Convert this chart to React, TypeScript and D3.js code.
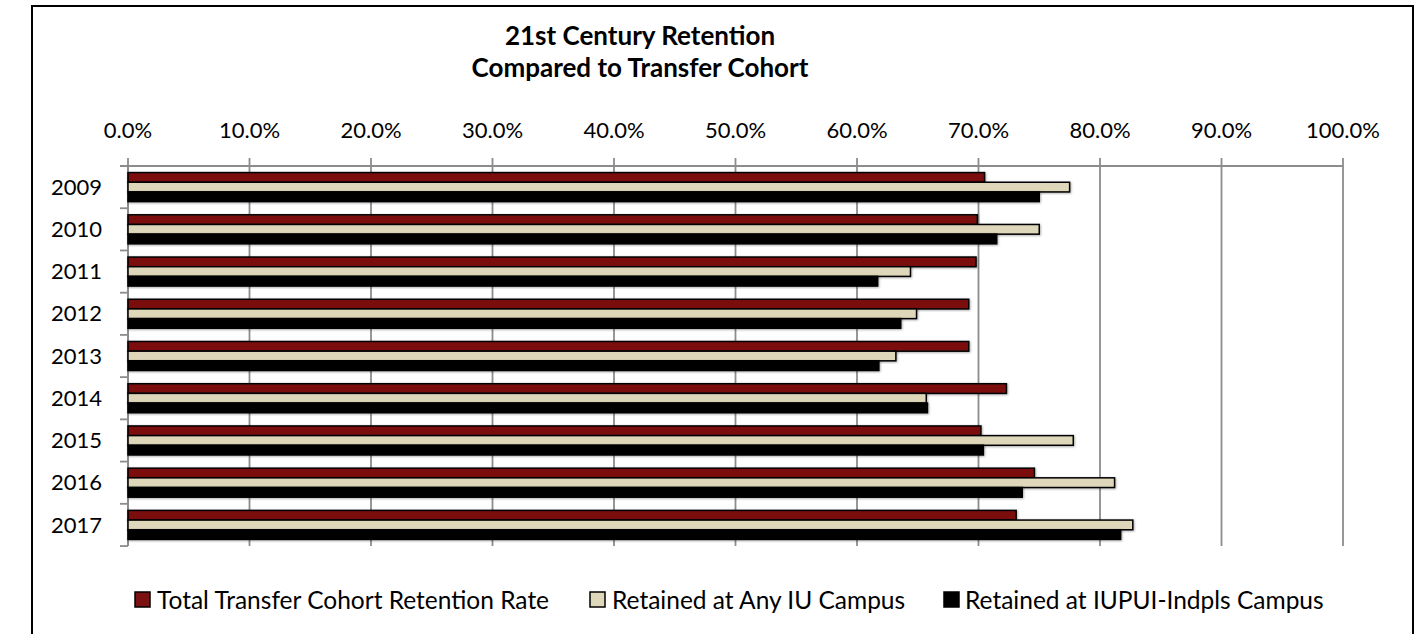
import React from "react";
import * as d3 from "d3";

const years = ["2009", "2010", "2011", "2012", "2013", "2014", "2015", "2016", "2017"];
const seriesNames = [
  "Total Transfer Cohort Retention Rate",
  "Retained at Any IU Campus",
  "Retained at IUPUI-Indpls Campus",
];
const totalTransfer = [70.5, 69.9, 69.8, 69.2, 69.2, 72.3, 70.2, 74.6, 73.1];
const anyIU = [77.5, 75.0, 64.4, 64.9, 63.2, 65.7, 77.8, 81.2, 82.7];
const iupui = [75.0, 71.5, 61.7, 63.6, 61.8, 65.8, 70.4, 73.6, 81.7];
const xTicks = [0, 10, 20, 30, 40, 50, 60, 70, 80, 90, 100];
const colors = ["#7B1111", "#DFD7BA", "#000000"];
const titleLines = ["21st Century Retention", "Compared to Transfer Cohort"];

const W = 1426;
const H = 634;
const FONT = "Lato, 'Open Sans', sans-serif";

export default function App() {
  const left = 128;
  const right = 1343;
  const top = 166;
  const bottom = 546;
  const x = d3.scaleLinear().domain([0, 100]).range([left, right]);
  const y = d3
    .scaleBand<string>()
    .domain(years)
    .range([top, bottom])
    .paddingInner(0.313)
    .paddingOuter(0.156);
  const sub = d3
    .scaleBand<number>()
    .domain([0, 1, 2])
    .range([0, y.bandwidth()]);
  const allSeries = [totalTransfer, anyIU, iupui];
  const step = y.step();
  const yTickPositions = d3.range(years.length + 1).map((i) => top + i * step);
  const fmt = d3.format(".1f");

  const legendItems = [
    { sx: 135, tx: 157 },
    { sx: 590, tx: 612 },
    { sx: 944, tx: 965 },
  ];

  return (
    <svg
      width={W}
      height={H}
      style={{ position: "absolute", left: 0, top: 0, background: "#fff" }}
      fontFamily={FONT}
    >
      <defs>
        <filter id="sh" x="-5%" y="-30%" width="110%" height="160%">
          <feDropShadow dx="0.8" dy="0.8" stdDeviation="0.8" floodColor="#000" floodOpacity="0.35" />
        </filter>
      </defs>
      <rect x={32} y={6} width={1381} height={H + 20} fill="#fff" stroke="#000" strokeWidth={2} />

      {titleLines.map((t, i) => (
        <text
          key={t}
          x={640}
          y={45 + i * 32}
          textAnchor="middle"
          fontWeight="bold"
          fontSize={26}
          fill="#000"
        >
          {t}
        </text>
      ))}

      {/* gridlines */}
      {xTicks.map((t) => (
        <line
          key={"g" + t}
          x1={x(t)}
          x2={x(t)}
          y1={158}
          y2={bottom}
          stroke="#8c8c8c"
          strokeWidth={1.8}
        />
      ))}
      {/* top axis line */}
      <line x1={120} x2={right} y1={top} y2={top} stroke="#8c8c8c" strokeWidth={2} />
      {/* left axis line */}
      <line x1={left} x2={left} y1={top} y2={bottom} stroke="#8c8c8c" strokeWidth={2} />
      {yTickPositions.map((p, i) => (
        <line key={"yt" + i} x1={120} x2={left} y1={p} y2={p} stroke="#8c8c8c" strokeWidth={1.8} />
      ))}

      {xTicks.map((t) => (
        <text key={"xl" + t} x={x(t)} y={138} textAnchor="middle" fontSize={22} fill="#000">
          {fmt(t) + "%"}
        </text>
      ))}
      {years.map((yr) => (
        <text
          key={"yl" + yr}
          x={102}
          y={(y(yr) as number) + y.bandwidth() / 2}
          dy="0.35em"
          textAnchor="end"
          fontSize={22}
          fill="#000"
        >
          {yr}
        </text>
      ))}

      {years.map((yr, i) => (
        <g key={"bars" + yr}>
          {allSeries.map((s, k) => (
            <rect
              key={k}
              x={x(0)}
              y={(y(yr) as number) + (sub(k) as number)}
              width={x(s[i]) - x(0)}
              height={sub.bandwidth()}
              fill={colors[k]}
              stroke="#000"
              strokeWidth={1.5}
              filter="url(#sh)"
            />
          ))}
        </g>
      ))}

      {seriesNames.map((n, k) => (
        <g key={"lg" + k}>
          <rect
            x={legendItems[k].sx}
            y={592}
            width={15}
            height={15}
            fill={colors[k]}
            stroke="#000"
            strokeWidth={1.5}
          />
          <text x={legendItems[k].tx} y={600} dy="0.35em" fontSize={24.5} fill="#000">
            {n}
          </text>
        </g>
      ))}
    </svg>
  );
}
